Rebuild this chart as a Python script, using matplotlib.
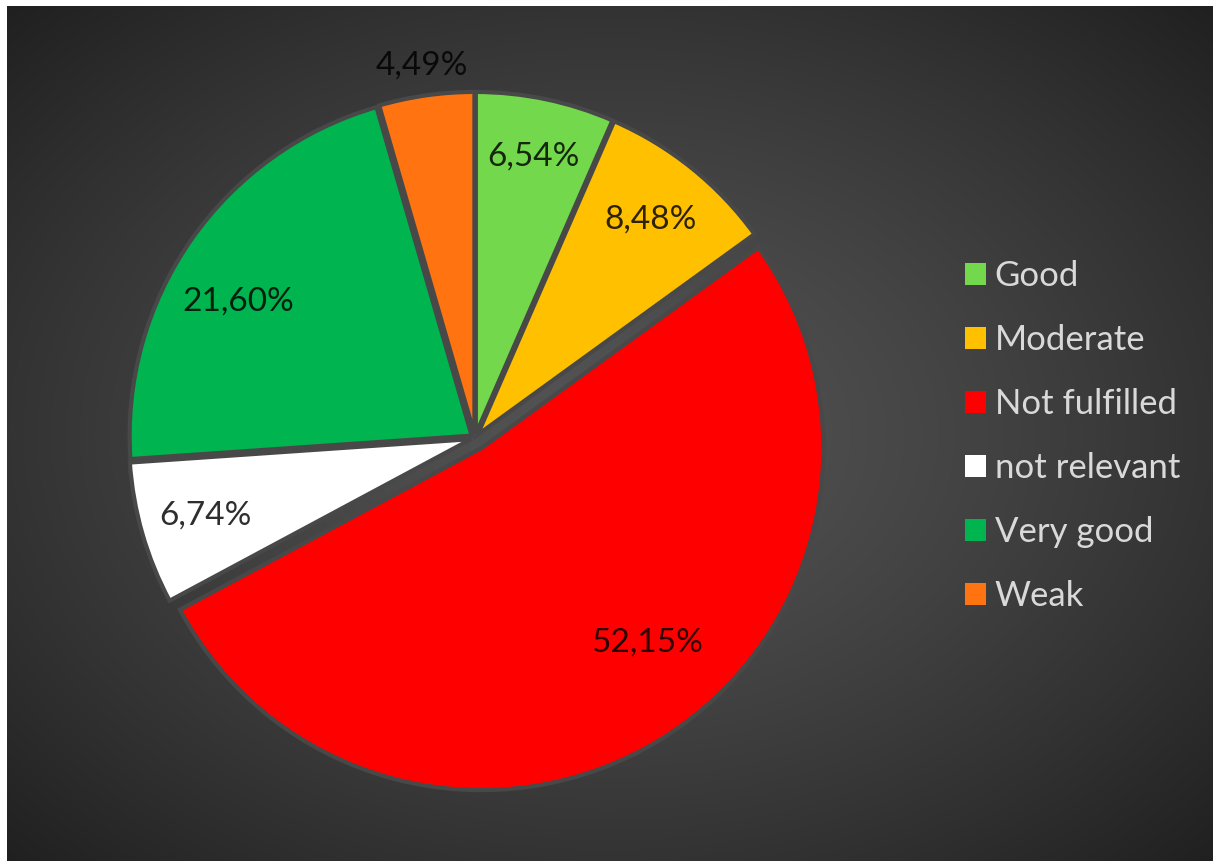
import numpy as np
import matplotlib
matplotlib.use("Agg")
import matplotlib.pyplot as plt
from matplotlib.patches import Patch

# slice data, clockwise from 12 o'clock
categories = ["Good", "Moderate", "Not fulfilled", "not relevant", "Very good", "Weak"]
shares = [6.54, 8.48, 52.15, 6.74, 21.60, 4.49]
colors = ["#74D84C", "#FFC000", "#FF0000", "#FFFFFF", "#00B450", "#FF7410"]
explode = [0.012, 0.012, 0.035, 0.012, 0.012, 0.012]
# value label placement: distance (fraction of radius) and angle nudge (deg)
label_dist = [0.84, 0.82, 0.78, 0.82, 0.80, 1.10]
label_turn = [0, 0, 8, 0, 5, 0]

W, H = 1213, 861
plt.rcParams["font.family"] = ["Lato", "DejaVu Sans"]

fig = plt.figure(figsize=(W / 100, H / 100), dpi=100)
fig.patch.set_facecolor("white")

# dark radial gradient behind the chart
bg = fig.add_axes([7 / W, 0, 1 - 7 / W, 1 - 6 / H])
yy, xx = np.mgrid[0:H - 6, 0:W - 7]
dx = (xx - (W - 7) / 2) / ((W - 7) / 2)
dy = (yy - (H - 6) / 2) / ((H - 6) / 2)
d = np.sqrt(dx ** 2 + dy ** 2) / np.sqrt(2)
shade = (84 - 52 * d ** 1.3) / 255
bg.imshow(np.dstack([shade, shade, shade]), aspect="auto", interpolation="bilinear")
bg.axis("off")

# pie axes: centre (475, 438) px, radius 342 px
cx, cy, r, s = 475, 438, 342, 430
ax = fig.add_axes([(cx - s) / W, (H - cy - s) / H, 2 * s / W, 2 * s / H])
ax.patch.set_visible(False)

wedges, texts, autotexts = ax.pie(
    shares,
    colors=colors,
    startangle=90,
    counterclock=False,
    explode=explode,
    autopct=lambda p: f"{p:.2f}%".replace(".", ","),
    pctdistance=0.82,
    wedgeprops=dict(edgecolor="#484848", linewidth=3),
    textprops=dict(fontsize=24, color="black", alpha=0.82),
)
ax.set_xlim(-s / r, s / r)
ax.set_ylim(-s / r, s / r)
ax.set_aspect("equal")

# place each value label along its slice's mid angle
for w, t, dist, turn in zip(wedges, autotexts, label_dist, label_turn):
    mid = np.deg2rad((w.theta1 + w.theta2) / 2 + turn)
    t.set_position((dist * np.cos(mid), dist * np.sin(mid)))

handles = [Patch(facecolor=c, edgecolor="none") for c in colors]
fig.legend(
    handles, categories,
    loc="center left",
    bbox_to_anchor=(934 / W, 1 - 436 / H),
    frameon=False,
    fontsize=25,
    labelcolor="#D9D9D9",
    handlelength=0.6,
    handleheight=0.6,
    handletextpad=0.25,
    labelspacing=0.92,
)

fig.savefig("out.png", dpi=100)
